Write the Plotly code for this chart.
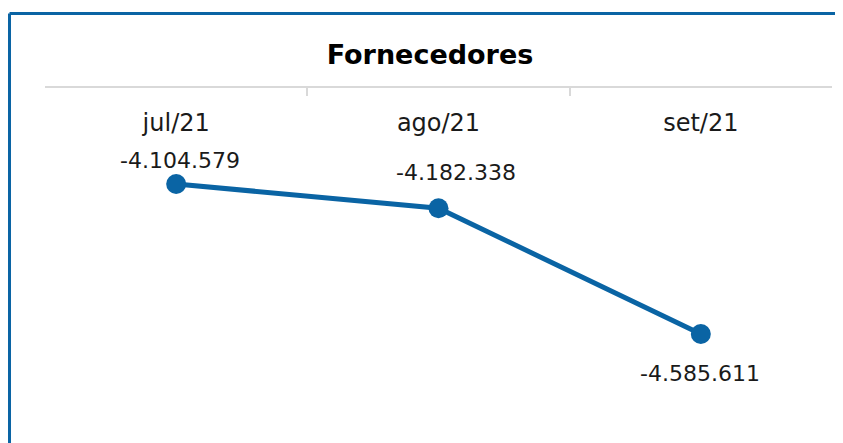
import plotly.graph_objects as go

# dados do gráfico
meses = ["jul/21", "ago/21", "set/21"]
fornecedores = [-4104579, -4182338, -4585611]

AZUL = "#0A64A4"
FONTE = "DejaVu Sans"


def fmt_br(v):
    # separador de milhar com ponto (formato pt-BR)
    return f"{v:,.0f}".replace(",", ".")


fig = go.Figure()
fig.add_trace(go.Scatter(
    x=meses,
    y=fornecedores,
    mode="lines+markers",
    line=dict(color=AZUL, width=5),
    marker=dict(color=AZUL, size=20),
    hoverinfo="skip",
))

# rótulos de dados, deslocados como no original
desloc = [(4, 24), (17, 36), (-1, -40)]
for m, v, (dx, dy) in zip(meses, fornecedores, desloc):
    fig.add_annotation(
        x=m, y=v, text=fmt_br(v), showarrow=False,
        xshift=dx, yshift=dy,
        font=dict(family=FONTE, size=22, color="#1a1a1a"),
    )

# moldura azul (esquerda e topo)
fig.add_shape(type="line", xref="paper", yref="paper",
              x0=-0.0451, x1=-0.0451, y0=-0.1, y1=1.2099,
              line=dict(color=AZUL, width=3))
fig.add_shape(type="line", xref="paper", yref="paper",
              x0=-0.0451, x1=1.1, y0=1.2099, y1=1.2099,
              line=dict(color=AZUL, width=3))

# a página do plotly tem 8px de margem no body
fig.update_layout(
    width=843,
    height=443,
    margin=dict(l=37, r=19, t=80, b=8),
    paper_bgcolor="white",
    plot_bgcolor="white",
    showlegend=False,
    title=dict(
        text="<b>Fornecedores</b>",
        x=422 / 843, xref="container", xanchor="center",
        y=1 - 47 / 443, yref="container", yanchor="middle",
        font=dict(family=FONTE, size=27, color="black"),
    ),
    font=dict(family=FONTE, color="#1a1a1a"),
)

fig.update_xaxes(
    type="category",
    range=[-0.5, 2.5],
    side="top",
    showline=True,
    linecolor="#d9d9d9",
    linewidth=2,
    ticks="inside",
    tickson="boundaries",
    ticklen=8,
    tickcolor="#d9d9d9",
    tickwidth=2,
    ticklabelposition="inside",
    ticklabelstandoff=20,
    tickfont=dict(family=FONTE, size=24, color="#1a1a1a"),
    showgrid=False,
    zeroline=False,
)
fig.update_yaxes(
    range=[-4935239, -3796689],
    visible=False,
    showgrid=False,
    zeroline=False,
)

fig.write_html("out.html")
